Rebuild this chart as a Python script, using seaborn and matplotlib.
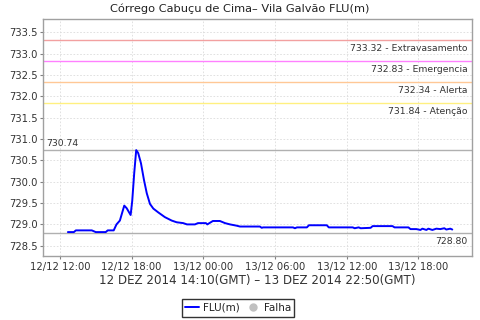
import matplotlib
matplotlib.use("Agg")
import matplotlib.pyplot as plt
import matplotlib.dates as mdates
from matplotlib.lines import Line2D
import seaborn as sns
import pandas as pd

# ---- data (local time) ----
times = [
    "2014-12-12 12:40", "2014-12-12 13:10", "2014-12-12 13:20", "2014-12-12 14:40",
    "2014-12-12 15:00", "2014-12-12 15:50", "2014-12-12 16:00", "2014-12-12 16:30",
    "2014-12-12 16:44", "2014-12-12 17:01", "2014-12-12 17:23", "2014-12-12 17:35",
    "2014-12-12 17:55", "2014-12-12 18:03", "2014-12-12 18:13", "2014-12-12 18:23",
    "2014-12-12 18:33", "2014-12-12 18:47", "2014-12-12 19:02", "2014-12-12 19:16",
    "2014-12-12 19:32", "2014-12-12 19:49", "2014-12-12 20:14", "2014-12-12 20:47",
    "2014-12-12 21:21", "2014-12-12 21:46", "2014-12-12 22:19", "2014-12-12 22:38",
    "2014-12-12 23:18", "2014-12-12 23:33", "2014-12-13 00:13", "2014-12-13 00:20",
    "2014-12-13 00:48", "2014-12-13 01:23", "2014-12-13 01:49", "2014-12-13 02:14",
    "2014-12-13 02:47", "2014-12-13 03:04", "2014-12-13 04:44", "2014-12-13 04:53",
    "2014-12-13 05:00", "2014-12-13 07:30", "2014-12-13 07:40", "2014-12-13 07:50",
    "2014-12-13 08:40", "2014-12-13 08:50", "2014-12-13 10:20", "2014-12-13 10:30",
    "2014-12-13 12:30", "2014-12-13 12:40", "2014-12-13 13:00", "2014-12-13 13:10",
    "2014-12-13 14:00", "2014-12-13 14:10", "2014-12-13 15:50", "2014-12-13 16:00",
    "2014-12-13 17:10", "2014-12-13 17:20", "2014-12-13 17:50", "2014-12-13 18:10",
    "2014-12-13 18:20", "2014-12-13 18:40", "2014-12-13 18:50", "2014-12-13 19:10",
    "2014-12-13 19:30", "2014-12-13 19:50", "2014-12-13 20:10", "2014-12-13 20:20",
    "2014-12-13 20:40", "2014-12-13 20:50",
]
flu = [
    728.82, 728.82, 728.86, 728.86,
    728.82, 728.82, 728.86, 728.86,
    729.00, 729.09, 729.44, 729.38,
    729.22, 729.55, 730.20, 730.74,
    730.67, 730.43, 730.04, 729.73,
    729.48, 729.37, 729.28, 729.17,
    729.09, 729.05, 729.03, 729.00,
    729.00, 729.03, 729.03, 729.00,
    729.08, 729.08, 729.03, 729.00,
    728.97, 728.95, 728.95, 728.92,
    728.93, 728.93, 728.91, 728.93,
    728.93, 728.98, 728.98, 728.93,
    728.93, 728.91, 728.93, 728.91,
    728.92, 728.96, 728.96, 728.93,
    728.93, 728.89, 728.89, 728.87,
    728.90, 728.87, 728.90, 728.87,
    728.90, 728.89, 728.91, 728.88,
    728.90, 728.88,
]
threshold_values = [733.32, 732.83, 732.34, 731.84]
threshold_names = ["Extravasamento", "Emergencia", "Alerta", "Atenção"]
threshold_colors = ["#f2a0a0", "#ff80ff", "#ffc896", "#fff080"]
max_value = 730.74
min_value = 728.80
yticks = [728.5, 729.0, 729.5, 730.0, 730.5, 731.0, 731.5, 732.0, 732.5, 733.0, 733.5]

title = "Córrego Cabuçu de Cima– Vila Galvão FLU(m)"
xlabel = "12 DEZ 2014 14:10(GMT) – 13 DEZ 2014 22:50(GMT)"

df = pd.DataFrame({"time": pd.to_datetime(times), "FLU(m)": flu})

sns.set_theme(style="white")
plt.rcParams["font.family"] = ["DejaVu Sans"]

fig = plt.figure(figsize=(4.8, 3.2), dpi=100)
ax = fig.add_axes([43 / 480, 1 - 256 / 320, (472 - 43) / 480, (256 - 19) / 320])

sns.lineplot(data=df, x="time", y="FLU(m)", ax=ax, color="#0000ff", linewidth=1.4)

xmin = pd.Timestamp("2014-12-12 10:35")
xmax = pd.Timestamp("2014-12-13 22:29")
ax.set_xlim(xmin, xmax)
ax.set_ylim(728.26, 733.81)

for v, name, c in zip(threshold_values, threshold_names, threshold_colors):
    ax.axhline(v, color=c, linewidth=1.0, zorder=1)
    ax.annotate(f"{v:.2f} - {name}", xy=(1, v), xycoords=("axes fraction", "data"),
                xytext=(-3, -3), textcoords="offset points", ha="right", va="top",
                fontsize=6.7, color="#333333")

ax.axhline(max_value, color="#b0b0b0", linewidth=1.0, zorder=1)
ax.annotate(f"{max_value:.2f}", xy=(0, max_value), xycoords=("axes fraction", "data"),
            xytext=(2, 1.5), textcoords="offset points", ha="left", va="bottom",
            fontsize=6.7, color="#333333")
ax.axhline(min_value, color="#b0b0b0", linewidth=1.0, zorder=1)
ax.annotate(f"{min_value:.2f}", xy=(1, min_value), xycoords=("axes fraction", "data"),
            xytext=(-3, -3), textcoords="offset points", ha="right", va="top",
            fontsize=6.7, color="#333333")

ax.set_yticks(yticks)
ax.yaxis.set_major_formatter(plt.FuncFormatter(lambda v, p: f"{v:.1f}"))
ax.xaxis.set_major_locator(mdates.HourLocator(byhour=[0, 6, 12, 18]))
ax.xaxis.set_major_formatter(mdates.DateFormatter("%d/%m %H:%M"))

ax.grid(True, color="#dcdcdc", linestyle=(0, (2, 2)), linewidth=0.6)
ax.set_axisbelow(True)
for s in ax.spines.values():
    s.set_color("#a0a0a0")
    s.set_linewidth(1.0)
ax.tick_params(axis="both", which="major", length=2, width=0.8, color="#808080",
               labelsize=7.2, labelcolor="#333333", pad=2, direction="out",
               left=True, bottom=True)

ax.set_ylabel("")
ax.set_xlabel(xlabel, fontsize=8.6, color="#333333", labelpad=2)
fig.text(0.5, 1 - 9 / 320, title, ha="center", va="center", fontsize=8.2, color="#222222")

handles = [
    Line2D([], [], color="#0000ff", linewidth=1.4, label="FLU(m)"),
    Line2D([], [], color="#c0c0c0", marker="o", linestyle="none", markersize=5, label="Falha"),
]
leg = fig.legend(handles=handles, loc="center", bbox_to_anchor=(238 / 480, 1 - 308 / 320),
                 ncol=2, frameon=True, fancybox=False, fontsize=7.5, handlelength=1.3,
                 handletextpad=0.4, columnspacing=0.6, borderpad=0.35,
                 edgecolor="black", facecolor="white")
leg.get_frame().set_linewidth(1.0)
for t in leg.get_texts():
    t.set_color("#222222")

fig.savefig("out.png", dpi=100)
